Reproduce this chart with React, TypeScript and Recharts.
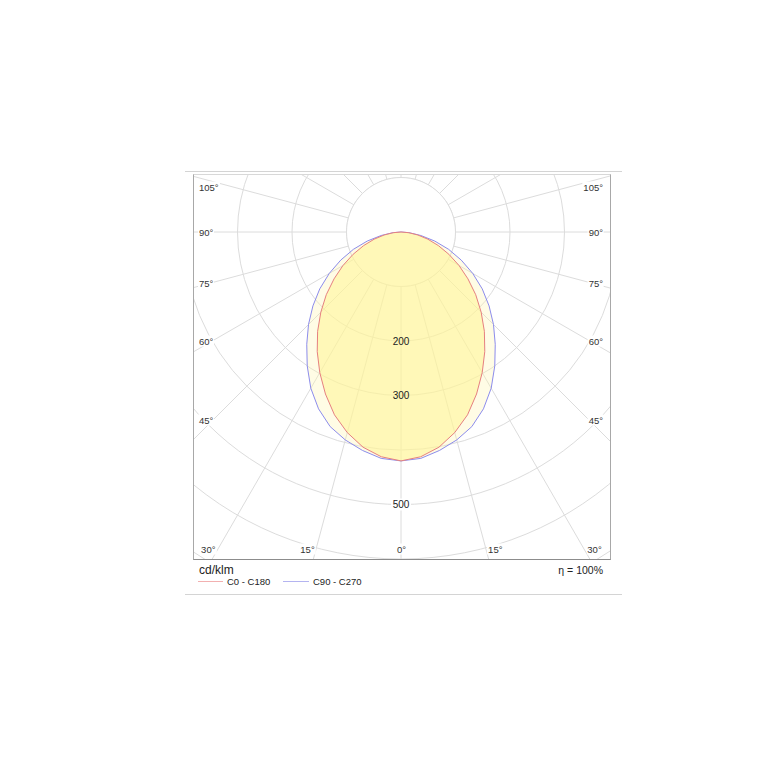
import React from 'react';
import { RadarChart, Radar, PolarGrid, PolarAngleAxis, PolarRadiusAxis } from 'recharts';

// ---- data ----
const gammaAngles = [0, 5, 10, 15, 20, 25, 30, 35, 40, 45, 50, 55, 60, 65, 70, 75, 80, 85, 90];
const c0c180 = [420, 414, 401, 381, 357, 328, 298, 268, 238, 208, 179, 150, 123, 97, 73, 51, 31, 14, 0];
const c90c270 = [420, 417, 407, 395, 380, 358, 331, 300, 269, 240, 211, 182, 152, 122, 93, 64, 37, 15, 0];
const ringValues = [0, 100, 200, 300, 400, 500, 600, 700];
const ringLabels = [200, 300, 500];
const innerRing = 100;
const spokeAngles = [0, 15, 30, 45, 60, 75, 90, 105, 120, 135, 150, 165, 180, 195, 210, 225, 240, 255, 270, 285, 300, 315, 330, 345];
const sideAngleLabels = ['105°', '90°', '75°', '60°', '45°'];
const bottomAngleLabels = ['30°', '15°', '0°', '15°', '30°'];
const unitLabel = 'cd/klm';
const efficiencyLabel = 'η = 100%';
const seriesNames = ['C0 - C180', 'C90 - C270'];

// ---- layout ----
const FONT = "Arial, 'Liberation Sans', sans-serif";
const sideLabelY = [187, 232, 283, 341, 420];
const bottomLabelX = [208.3, 307.5, 401.5, 495.3, 594.5];
const RED = '#e68080';
const BLUE = '#8c8cec';
const GRID = '#dcdcdc';

const sweep: number[] = [];
for (let a = 0; a < 360; a += 5) sweep.push(a);
const valueAt = (profile: number[], a: number) => {
  const g = a <= 180 ? a : 360 - a;
  const i = gammaAngles.indexOf(g);
  return i >= 0 ? profile[i] : 0;
};
const data = sweep.map((a) => ({
  angle: a,
  c0: valueAt(c0c180, a),
  c90: valueAt(c90c270, a),
  inner: innerRing,
}));

const RingTick = (props: any) => {
  const { x, y, payload } = props;
  const v = payload?.value;
  if (!ringLabels.includes(v)) return <g />;
  return (
    <g>
      {v === 500 ? <rect x={x - 10} y={y - 6} width={20} height={12} fill="#fff" /> : null}
      <text x={x} y={y} textAnchor="middle" dominantBaseline="central" fontSize={10} fill="#222" fontFamily={FONT}>
        {v}
      </text>
    </g>
  );
};

const labelStyle: React.CSSProperties = {
  position: 'absolute',
  fontSize: 9.5,
  fontFamily: FONT,
  color: '#333',
  background: '#fff',
  lineHeight: '11px',
  padding: '0 1px',
  whiteSpace: 'nowrap',
};

export default function App() {
  return (
    <div style={{ position: 'absolute', left: 0, top: 0, width: 767, height: 767, background: '#fff', fontFamily: FONT }}>
      {/* top and bottom separators */}
      <div style={{ position: 'absolute', left: 185, top: 171, width: 437, height: 1, background: '#d4d4d4' }} />
      <div style={{ position: 'absolute', left: 185, top: 594, width: 437, height: 1, background: '#d4d4d4' }} />

      <div style={{ position: 'absolute', left: 193, top: 174, width: 417, height: 385, overflow: 'hidden' }}>
        <RadarChart
          width={417}
          height={385}
          cx={208}
          cy={58}
          outerRadius={381.5}
          data={data}
          startAngle={-90}
          endAngle={-450}
          margin={{ top: 0, right: 0, bottom: 0, left: 0 }}
        >
          <PolarGrid gridType="circle" polarAngles={spokeAngles} stroke={GRID} />
          <PolarAngleAxis dataKey="angle" tick={false} axisLine={false} tickLine={false} />
          <PolarRadiusAxis
            angle={-90}
            domain={[0, 700]}
            ticks={ringValues as any}
            tickCount={8}
            axisLine={false}
            tickLine={false}
            tick={RingTick}
          />
          <Radar dataKey="inner" fill="#ffffff" fillOpacity={1} stroke={GRID} strokeWidth={1} dot={false} isAnimationActive={false} />
          <Radar dataKey="c90" name={seriesNames[1]} fill="#FFF6A8" fillOpacity={0.3} stroke={BLUE} strokeWidth={1} dot={false} isAnimationActive={false} />
          <Radar dataKey="c0" name={seriesNames[0]} fill="#FFF596" fillOpacity={0.57} stroke={RED} strokeWidth={1} dot={false} isAnimationActive={false} />
        </RadarChart>
      </div>

      {/* frame */}
      <div style={{ position: 'absolute', left: 193, top: 174, width: 418, height: 386, boxSizing: 'border-box', borderLeft: '1px solid #a8a8a8', borderRight: '1px solid #a8a8a8', borderBottom: '1px solid #8c8c8c', borderTop: '1px solid #d8d8d8' }} />

      {/* angle labels */}
      {sideAngleLabels.map((t, i) => (
        <span key={'l' + i} style={{ ...labelStyle, left: 198, top: sideLabelY[i], transform: 'translateY(-50%)' }}>{t}</span>
      ))}
      {sideAngleLabels.map((t, i) => (
        <span key={'r' + i} style={{ ...labelStyle, left: 604, top: sideLabelY[i], transform: 'translate(-100%,-50%)' }}>{t}</span>
      ))}
      {bottomAngleLabels.map((t, i) => (
        <span key={'b' + i} style={{ ...labelStyle, left: bottomLabelX[i], top: 549, transform: 'translate(-50%,-50%)' }}>{t}</span>
      ))}

      {/* footer */}
      <span style={{ position: 'absolute', left: 199, top: 570, transform: 'translateY(-50%)', fontSize: 12, color: '#222', lineHeight: '14px' }}>{unitLabel}</span>
      <span style={{ position: 'absolute', left: 603, top: 570, transform: 'translate(-100%,-50%)', fontSize: 10.5, color: '#222', lineHeight: '14px', whiteSpace: 'nowrap' }}>{efficiencyLabel}</span>

      <div style={{ position: 'absolute', left: 198, top: 581, width: 25, height: 1, background: '#f2b0b0' }} />
      <span style={{ position: 'absolute', left: 227, top: 582, transform: 'translateY(-50%)', fontSize: 9.5, color: '#222', lineHeight: '12px', whiteSpace: 'nowrap' }}>{seriesNames[0]}</span>
      <div style={{ position: 'absolute', left: 283, top: 581, width: 26, height: 1, background: '#b4b4f0' }} />
      <span style={{ position: 'absolute', left: 313, top: 582, transform: 'translateY(-50%)', fontSize: 9.5, color: '#222', lineHeight: '12px', whiteSpace: 'nowrap' }}>{seriesNames[1]}</span>
    </div>
  );
}
